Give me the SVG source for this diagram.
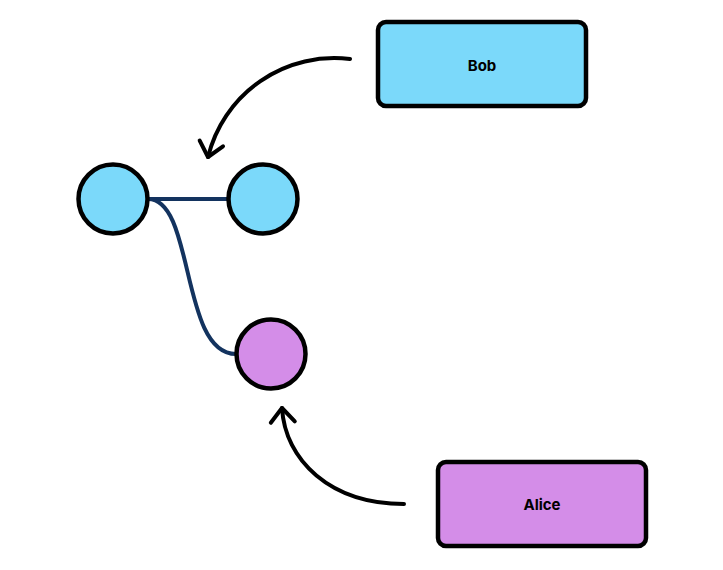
<svg xmlns="http://www.w3.org/2000/svg" width="723" height="570" viewBox="0 0 723 570">
<style>
.blue{fill:#7BD9FA}
.purple{fill:#D48DE8}
.node{stroke:#000;stroke-width:4.5}
.label{font-family:Inter,"Liberation Sans",sans-serif;font-weight:700;font-size:15px;fill:#000;text-anchor:middle;dominant-baseline:central}
.link{fill:none;stroke:#13335F;stroke-width:4}
.arrow{fill:none;stroke:#000;stroke-width:4;stroke-linecap:round}
</style>
<defs>
<marker id="chev" markerUnits="userSpaceOnUse" markerWidth="40" markerHeight="40" refX="20" refY="20" orient="auto" viewBox="0 0 40 40">
<path d="M6,8 L20,20 L6,32" fill="none" stroke="#000" stroke-width="4" stroke-linecap="round" stroke-linejoin="round"/>
</marker>
</defs>
<rect width="723" height="570" fill="#fff"/>
<g id="connectors">
<path class="link" d="M148,199 L228,199"/>
<path class="link" d="M148,199 C195,199 180,354 236,354"/>
<path class="arrow" d="M350,59 A130,130 0 0 0 208,157" marker-end="url(#chev)"/>
<path class="arrow" d="M404,504 C330,504 285,460 282,408" marker-end="url(#chev)"/>
</g>
<g id="c1"><circle class="node blue" cx="113" cy="199" r="34.5"/></g>
<g id="c2"><circle class="node blue" cx="263" cy="199" r="34.5"/></g>
<g id="c3"><circle class="node purple" cx="271" cy="354" r="34.5"/></g>
<g id="bob"><rect class="node blue" x="378" y="22" width="208" height="84" rx="8"/><text class="label" x="482" y="65">Bob</text></g>
<g id="alice"><rect class="node purple" x="438" y="462" width="208" height="84" rx="8"/><text class="label" x="542" y="504">Alice</text></g>
</svg>
